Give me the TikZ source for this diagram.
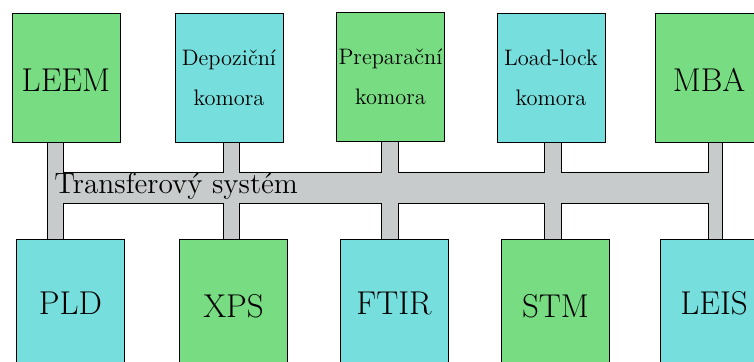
\documentclass[tikz,border=0pt]{standalone}
\usepackage{fontspec}
\usetikzlibrary{positioning}

\definecolor{chamgreen}{RGB}{120,221,130}
\definecolor{chamcyan}{RGB}{118,223,221}
\definecolor{transgray}{RGB}{200,203,204}

\tikzset{box/.style={draw, minimum width=54pt, minimum height=64.5pt, inner sep=1pt, align=center},
         big/.style={font=\fontsize{16.5}{20}\selectfont},
         lowered/.style={text height=14.5pt, text depth=0pt},
         small/.style={font=\fontsize{11.2}{20}\selectfont}}

\begin{document}
\begin{tikzpicture}[x=0.5pt, y=-0.5pt]
    \clip (0,0) rectangle (754,362);

    % transfer system
    \draw[fill=transgray] (47,141) -- (47,239) -- (63,239) -- (63,203) -- (223,203) -- (223,239) -- (239,239) -- (239,203)
        -- (381,203) -- (381,239) -- (398,239) -- (398,203) -- (544,203) -- (544,239) -- (561,239) -- (561,203)
        -- (708,203) -- (708,239) -- (722,239) -- (722,141) -- (708,141) -- (708,172) -- (561,172) -- (561,141)
        -- (544,141) -- (544,172) -- (398,172) -- (398,141) -- (381,141) -- (381,172) -- (239,172) -- (239,141)
        -- (223,141) -- (223,172) -- (63,172) -- (63,141) -- cycle;
    \node[anchor=base west, inner sep=0pt, font=\fontsize{14.7}{18}\selectfont] (transfer) at (54,194) {Transferový systém};

    % top row
    \node[box, big, lowered, fill=chamgreen] (leem) at (66,77.5) {LEEM};
    \node[box, small, fill=chamcyan] (depo) at (229,77.5) {Depoziční\\komora};
    \node[box, small, fill=chamgreen] (prep) at (390.5,76.5) {Preparační\\komora};
    \node[box, small, fill=chamcyan] (loadlock) at (551,77.5) {Load-lock\\komora};
    \node[box, big, lowered, fill=chamgreen] (mba) at (709,77.5) {MBA};

    % bottom row
    \node[box, big, fill=chamcyan] (pld) at (70.5,303.5) {PLD};
    \node[box, big, lowered, fill=chamgreen] (xps) at (233.5,303.5) {XPS};
    \node[box, big, fill=chamcyan] (ftir) at (394,303.5) {FTIR};
    \node[box, big, lowered, fill=chamgreen] (stm) at (555.5,303.5) {STM};
    \node[box, big, fill=chamcyan] (leis) at (714,303.5) {LEIS};

\end{tikzpicture}
\end{document}
